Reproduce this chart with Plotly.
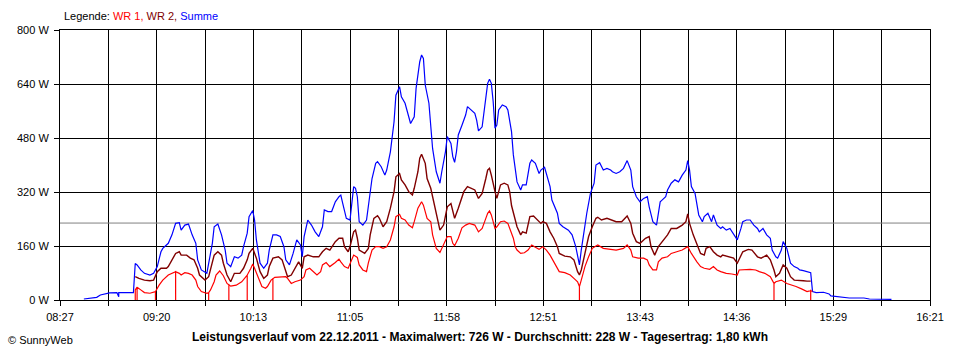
import plotly.graph_objects as go

# ---------------- data ----------------
axis_start = "08:27"
axis_end = "16:21"
x_tick_labels = ["08:27", "09:20", "10:13", "11:05", "11:58", "12:51", "13:43", "14:36", "15:29", "16:21"]
y_tick_values = [0, 160, 320, 480, 640, 800]

report_date = "22.12.2011"
max_w = 726
avg_w = 228
daily_kwh = "1,80"

summe_time = ["08:40", "08:43", "08:47", "08:49", "08:52", "08:54", "08:58", "08:59", "08:59", "09:02", "09:05", "09:07",
              "09:08", "09:09", "09:11", "09:13", "09:16", "09:18", "09:20", "09:22", "09:23", "09:26", "09:28", "09:30",
              "09:32", "09:33", "09:35", "09:37", "09:39", "09:41", "09:42", "09:44", "09:47", "09:50", "09:51", "09:53",
              "09:55", "09:57", "09:58", "10:00", "10:02", "10:04", "10:06", "10:07", "10:09", "10:10", "10:12", "10:13",
              "10:14", "10:16", "10:18", "10:20", "10:21", "10:23", "10:25", "10:27", "10:29", "10:30", "10:32", "10:34",
              "10:36", "10:38", "10:39", "10:40", "10:42", "10:44", "10:46", "10:48", "10:50", "10:51", "10:53", "10:55",
              "10:57", "10:59", "11:00", "11:01", "11:03", "11:05", "11:07", "11:08", "11:09", "11:10", "11:12", "11:14",
              "11:16", "11:17", "11:19", "11:20", "11:22", "11:24", "11:25", "11:27", "11:29", "11:30", "11:32", "11:33",
              "11:35", "11:37", "11:38", "11:40", "11:41", "11:43", "11:44", "11:45", "11:46", "11:48", "11:49", "11:50",
              "11:52", "11:54", "11:55", "11:57", "11:58", "12:00", "12:01", "12:02", "12:03", "12:04", "12:06", "12:08",
              "12:09", "12:11", "12:13", "12:14", "12:15", "12:17", "12:19", "12:20", "12:21", "12:22", "12:23", "12:24",
              "12:25", "12:26", "12:28", "12:30", "12:31", "12:33", "12:34", "12:35", "12:36", "12:38", "12:39", "12:41",
              "12:43", "12:44", "12:46", "12:48", "12:49", "12:51", "12:52", "12:54", "12:55", "12:58", "12:59", "13:01",
              "13:04", "13:06", "13:08", "13:09", "13:10", "13:11", "13:12", "13:14", "13:16", "13:18", "13:19", "13:21",
              "13:23", "13:25", "13:27", "13:28", "13:30", "13:32", "13:34", "13:36", "13:38", "13:39", "13:41", "13:43",
              "13:45", "13:47", "13:48", "13:50", "13:52", "13:53", "13:54", "13:55", "13:57", "13:58", "14:00", "14:02",
              "14:04", "14:06", "14:08", "14:09", "14:10", "14:11", "14:13", "14:15", "14:17", "14:18", "14:20", "14:22",
              "14:23", "14:25", "14:27", "14:28", "14:30", "14:32", "14:34", "14:36", "14:38", "14:39", "14:41", "14:43",
              "14:45", "14:47", "14:48", "14:50", "14:52", "14:54", "14:55", "14:57", "14:58", "15:00", "15:01", "15:03",
              "15:05", "15:07", "15:09", "15:10", "15:12", "15:14", "15:16", "15:17", "15:19", "15:23", "15:26", "15:27",
              "15:32", "15:37", "15:45", "15:48", "16:00"]
summe_w = [3, 5, 8, 15, 18, 21, 22, 10, 22, 23, 22, 22,
           108, 104, 89, 79, 74, 79, 99, 143, 153, 168, 193, 227,
           229, 207, 222, 225, 193, 168, 119, 89, 79, 168, 217, 225,
           193, 148, 109, 99, 128, 124, 133, 158, 198, 247, 265, 237,
           178, 109, 94, 109, 148, 193, 193, 188, 158, 119, 104, 138,
           178, 163, 128, 188, 237, 222, 202, 188, 217, 267, 262, 262,
           291, 306, 311, 287, 242, 237, 336, 331, 306, 232, 222, 237,
           311, 360, 405, 410, 395, 370, 385, 439, 528, 607, 632, 602,
           583, 548, 523, 543, 627, 706, 726, 716, 637, 583, 518, 449,
           380, 346, 380, 439, 484, 464, 425, 408, 439, 489, 518, 548,
           573, 563, 553, 533, 501, 513, 593, 642, 654, 642, 588, 509,
           518, 563, 578, 573, 563, 499, 430, 395, 350, 326, 341, 341,
           405, 415, 405, 375, 385, 393, 375, 336, 296, 257, 227, 217,
           207, 193, 158, 128, 104, 148, 188, 257, 316, 346, 400, 407,
           385, 390, 385, 380, 375, 380, 390, 413, 385, 336, 306, 291,
           301, 306, 276, 232, 222, 257, 291, 296, 306, 326, 346, 356,
           350, 370, 385, 413, 385, 336, 316, 252, 232, 247, 257, 232,
           252, 222, 212, 217, 207, 212, 193, 178, 212, 232, 237, 237,
           222, 212, 202, 212, 193, 183, 148, 128, 124, 148, 173, 153,
           109, 99, 94, 89, 87, 84, 81, 25, 22, 23, 18, 12,
           8, 6, 6, 3, 2]

wr2_time = ["09:08", "09:10", "09:13", "09:16", "09:18", "09:20", "09:22", "09:25", "09:26", "09:28", "09:30", "09:32",
            "09:33", "09:36", "09:38", "09:40", "09:42", "09:43", "09:46", "09:48", "09:50", "09:51", "09:53", "09:55",
            "09:56", "09:58", "10:00", "10:02", "10:05", "10:07", "10:09", "10:10", "10:12", "10:14", "10:16", "10:18",
            "10:20", "10:21", "10:23", "10:26", "10:28", "10:30", "10:31", "10:33", "10:35", "10:37", "10:39", "10:40",
            "10:42", "10:45", "10:48", "10:50", "10:52", "10:54", "10:57", "10:59", "11:01", "11:02", "11:04", "11:05",
            "11:07", "11:08", "11:09", "11:10", "11:13", "11:15", "11:16", "11:18", "11:20", "11:21", "11:23", "11:25",
            "11:27", "11:29", "11:30", "11:32", "11:33", "11:35", "11:37", "11:39", "11:40", "11:42", "11:43", "11:44",
            "11:46", "11:47", "11:49", "11:51", "11:53", "11:54", "11:56", "11:58", "12:00", "12:01", "12:02", "12:04",
            "12:06", "12:07", "12:09", "12:11", "12:13", "12:15", "12:17", "12:19", "12:20", "12:21", "12:22", "12:24",
            "12:25", "12:27", "12:29", "12:31", "12:32", "12:33", "12:34", "12:35", "12:36", "12:38", "12:39", "12:41",
            "12:43", "12:45", "12:47", "12:49", "12:50", "12:52", "12:54", "12:56", "12:58", "12:59", "13:02", "13:05",
            "13:07", "13:09", "13:10", "13:11", "13:13", "13:15", "13:17", "13:19", "13:20", "13:22", "13:25", "13:28",
            "13:30", "13:33", "13:36", "13:38", "13:39", "13:41", "13:43", "13:46", "13:48", "13:49", "13:51", "13:53",
            "13:55", "13:58", "14:00", "14:03", "14:06", "14:08", "14:09", "14:10", "14:12", "14:14", "14:16", "14:18",
            "14:19", "14:21", "14:23", "14:25", "14:27", "14:28", "14:31", "14:34", "14:36", "14:38", "14:39", "14:42",
            "14:44", "14:47", "14:49", "14:52", "14:54", "14:56", "14:57", "14:59", "15:01", "15:03", "15:05", "15:07",
            "15:09", "15:12", "15:14", "15:16"]
wr2_w = [69, 64, 59, 57, 59, 84, 94, 94, 99, 119, 138, 143,
         133, 133, 124, 119, 94, 74, 59, 69, 109, 133, 143, 133,
         109, 74, 54, 79, 79, 94, 119, 138, 153, 124, 84, 64,
         74, 99, 124, 128, 119, 84, 69, 74, 94, 113, 94, 128,
         133, 128, 128, 143, 153, 148, 173, 183, 183, 158, 143, 158,
         202, 207, 183, 148, 138, 153, 193, 242, 250, 242, 217, 232,
         272, 321, 365, 375, 356, 341, 321, 311, 331, 380, 420, 432,
         405, 360, 331, 281, 237, 207, 222, 276, 286, 262, 242, 272,
         306, 321, 336, 331, 326, 301, 316, 360, 385, 390, 370, 321,
         301, 341, 346, 341, 321, 280, 260, 242, 217, 193, 202, 198,
         247, 249, 237, 227, 232, 227, 202, 183, 158, 138, 130, 128,
         119, 84, 74, 89, 138, 188, 217, 242, 245, 237, 242, 237,
         232, 232, 249, 227, 198, 173, 168, 183, 188, 158, 133, 158,
         173, 193, 212, 212, 222, 232, 255, 227, 193, 163, 138, 133,
         153, 158, 143, 133, 128, 133, 128, 124, 109, 133, 143, 150,
         148, 128, 124, 133, 119, 89, 69, 79, 104, 94, 69, 59,
         59, 57, 56, 56]

wr1_time = ["09:08", "09:08", "09:09", "09:09", "09:09", "09:11", "09:13", "09:16", "09:19", "09:19", "09:19", "09:21",
            "09:23", "09:26", "09:28", "09:30", "09:30", "09:30", "09:32", "09:33", "09:35", "09:37", "09:39", "09:41",
            "09:42", "09:44", "09:47", "09:48", "09:48", "09:48", "09:49", "09:51", "09:52", "09:54", "09:56", "09:58",
            "09:59", "09:59", "09:59", "10:00", "10:03", "10:06", "10:09", "10:09", "10:09", "10:11", "10:12", "10:13",
            "10:15", "10:17", "10:19", "10:20", "10:22", "10:23", "10:23", "10:23", "10:24", "10:27", "10:30", "10:31",
            "10:33", "10:35", "10:38", "10:40", "10:41", "10:43", "10:45", "10:47", "10:49", "10:50", "10:52", "10:54",
            "10:57", "10:59", "11:00", "11:02", "11:04", "11:06", "11:07", "11:09", "11:10", "11:12", "11:14", "11:15",
            "11:16", "11:17", "11:19", "11:21", "11:23", "11:25", "11:27", "11:29", "11:30", "11:32", "11:33", "11:35",
            "11:37", "11:39", "11:40", "11:42", "11:44", "11:45", "11:47", "11:49", "11:50", "11:52", "11:54", "11:56",
            "11:58", "12:00", "12:01", "12:02", "12:04", "12:06", "12:08", "12:10", "12:13", "12:15", "12:17", "12:19",
            "12:20", "12:21", "12:22", "12:24", "12:25", "12:27", "12:29", "12:31", "12:32", "12:33", "12:34", "12:35",
            "12:36", "12:38", "12:40", "12:42", "12:44", "12:46", "12:48", "12:50", "12:52", "12:54", "12:56", "12:58",
            "12:59", "13:02", "13:05", "13:07", "13:09", "13:10", "13:10", "13:10", "13:11", "13:13", "13:15", "13:17",
            "13:19", "13:20", "13:23", "13:27", "13:30", "13:34", "13:36", "13:38", "13:39", "13:42", "13:45", "13:47",
            "13:48", "13:50", "13:52", "13:53", "13:55", "13:58", "14:00", "14:03", "14:06", "14:09", "14:11", "14:14",
            "14:16", "14:18", "14:21", "14:23", "14:25", "14:27", "14:30", "14:33", "14:36", "14:37", "14:40", "14:43",
            "14:46", "14:48", "14:51", "14:54", "14:56", "14:56", "14:56", "14:57", "15:00", "15:03", "15:06", "15:08",
            "15:11", "15:12", "15:14", "15:16", "15:16", "15:16", "15:17"]
wr1_w = [0, 30, 38, 0, 38, 30, 22, 20, 25, 0, 25, 44,
         59, 74, 79, 84, 0, 84, 79, 74, 81, 79, 74, 59,
         40, 25, 20, 22, 0, 22, 30, 54, 74, 86, 72, 49,
         45, 0, 45, 41, 44, 54, 74, 0, 74, 94, 107, 94,
         69, 40, 35, 40, 59, 63, 0, 63, 67, 69, 69, 64,
         49, 54, 59, 69, 89, 94, 84, 74, 84, 104, 111, 99,
         111, 121, 113, 99, 94, 119, 133, 126, 104, 89, 84, 110,
         130, 148, 158, 158, 153, 158, 178, 217, 247, 254, 242, 237,
         222, 214, 232, 272, 291, 281, 242, 232, 193, 153, 141, 163,
         188, 188, 168, 161, 183, 214, 222, 227, 222, 202, 212, 242,
         257, 264, 252, 212, 217, 232, 234, 227, 212, 202, 183, 158,
         148, 138, 140, 148, 163, 156, 150, 158, 148, 133, 113, 94,
         84, 81, 74, 64, 54, 40, 0, 40, 59, 99, 128, 153,
         160, 163, 153, 150, 148, 153, 163, 148, 128, 124, 124, 119,
         104, 89, 89, 113, 124, 128, 138, 143, 148, 158, 138, 113,
         99, 94, 91, 99, 89, 84, 79, 77, 74, 89, 91, 91,
         89, 84, 79, 69, 49, 0, 49, 54, 59, 49, 44, 40,
         33, 30, 25, 28, 0, 28, 25]


# ---------------- helpers ----------------
def to_min(s):
    h, m = s.split(":")
    return int(h) * 60 + int(m)


x0, x1 = to_min(axis_start), to_min(axis_end)
n_int = 2 * (len(x_tick_labels) - 1)
step = (x1 - x0) / n_int
tick_vals = [x0 + i * step for i in range(n_int + 1)]
tick_text = [x_tick_labels[i // 2] if i % 2 == 0 else "" for i in range(n_int + 1)]

FONT = "Liberation Sans, Arial, sans-serif"

fig = go.Figure()

# average line
fig.add_trace(go.Scatter(x=[x0, x1], y=[avg_w, avg_w], mode="lines",
                         line=dict(color="#808080", width=1), hoverinfo="skip"))

fig.add_trace(go.Scatter(x=[to_min(t) for t in summe_time], y=summe_w, mode="lines",
                         name="Summe", line=dict(color="#0000ff", width=1.2)))
fig.add_trace(go.Scatter(x=[to_min(t) for t in wr2_time], y=wr2_w, mode="lines",
                         name="WR 2", line=dict(color="#800000", width=1.4)))
fig.add_trace(go.Scatter(x=[to_min(t) for t in wr1_time], y=wr1_w, mode="lines",
                         name="WR 1", line=dict(color="#ff0000", width=1.2)))

fig.update_layout(
    width=960, height=360,
    margin=dict(l=60, r=30, t=30, b=60, pad=0),
    paper_bgcolor="white", plot_bgcolor="white",
    showlegend=False,
    font=dict(family=FONT, size=11, color="black"),
    xaxis=dict(range=[x0, x1], tickmode="array", tickvals=tick_vals, ticktext=tick_text,
               showgrid=True, gridcolor="black", gridwidth=1, zeroline=False,
               showline=True, linecolor="black", linewidth=1, mirror=True,
               ticks="outside", ticklen=5, tickcolor="black", tickwidth=1,
               ticklabelstandoff=2,
               tickfont=dict(family=FONT, size=11, color="black")),
    yaxis=dict(range=[0, 800], tickmode="array", tickvals=y_tick_values,
               ticktext=[f"{v} W" for v in y_tick_values],
               showgrid=True, gridcolor="black", gridwidth=1, zeroline=False,
               showline=True, linecolor="black", linewidth=1, mirror=True,
               ticks="outside", ticklen=5, tickcolor="black", tickwidth=1,
               ticklabelstandoff=3,
               tickfont=dict(family=FONT, size=11, color="black")),
)

fig.add_annotation(
    xref="paper", yref="paper", x=(62 - 60) / 870, y=1 + (30 - 16) / 270,
    xanchor="left", yanchor="middle", showarrow=False,
    text="Legende: <span style='color:#ff0000'>WR 1, </span>"
         "<span style='color:#800000'>WR 2, </span>"
         "<span style='color:#0000ff'>Summe</span>",
    font=dict(family=FONT, size=11, color="black"))

fig.add_annotation(
    xref="paper", yref="paper", x=(480 - 60) / 870, y=(300 - 337) / 270,
    xanchor="center", yanchor="middle", showarrow=False,
    text=f"<b>Leistungsverlauf vom {report_date} - Maximalwert: {max_w} W - "
         f"Durchschnitt: {avg_w} W - Tagesertrag: {daily_kwh} kWh</b>",
    font=dict(family=FONT, size=12, color="black"))

fig.add_annotation(
    xref="paper", yref="paper", x=(6 - 60) / 870, y=(300 - 340) / 270,
    xanchor="left", yanchor="middle", showarrow=False,
    text="© SunnyWeb",
    font=dict(family=FONT, size=11, color="black"))

fig.write_html("out.html", config={"displayModeBar": False},
               post_script="document.body.style.margin='0';")
